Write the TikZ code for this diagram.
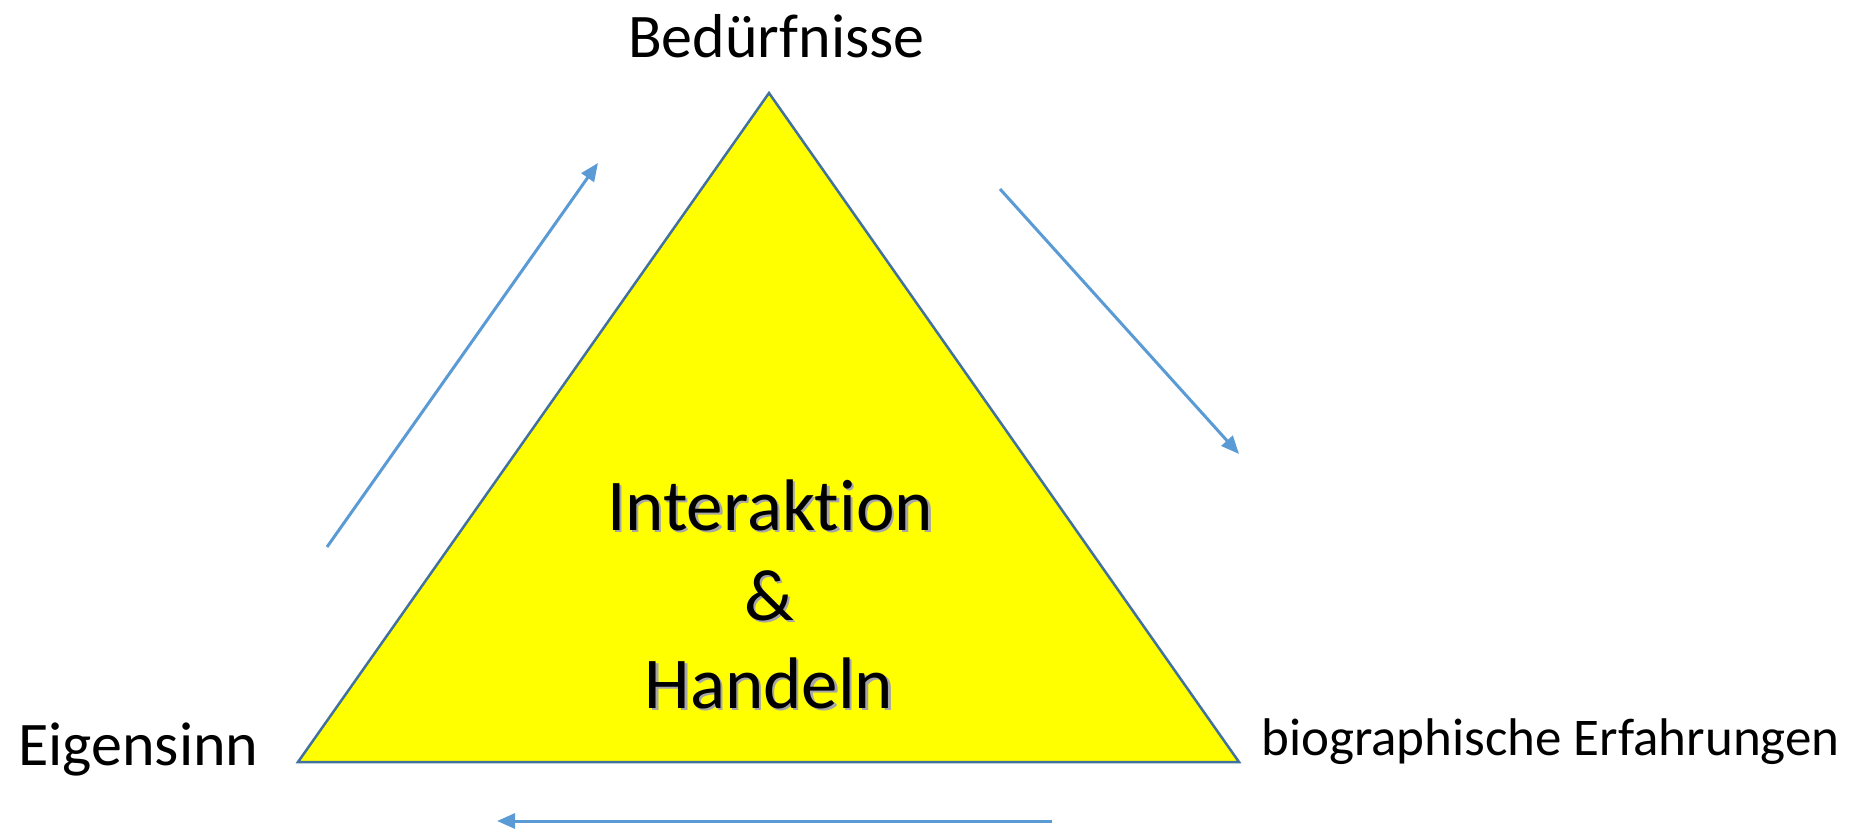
\documentclass[tikz,border=0pt]{standalone}
\usepackage{fontspec}
\setmainfont[Ligatures=NoCommon]{Carlito}
\usetikzlibrary{arrows.meta}
\definecolor{triyellow}{HTML}{FFFF00}
\definecolor{triedge}{HTML}{41719C}
\definecolor{flowblue}{HTML}{5B9BD5}
\tikzset{
  corner/.style={font=\fontsize{62}{74}\selectfont, inner sep=0pt, anchor=base west},
  centertext/.style={font=\fontsize{73}{88}\selectfont, inner sep=0pt, anchor=base},
  flow/.style={draw=flowblue, line width=3pt, -{Triangle[length=18pt,width=15pt]}},
}
\begin{document}
\begin{tikzpicture}[x=1pt,y=-1pt]
  \useasboundingbox (0,0) rectangle (1849,829);

  % triangle corners
  \coordinate (top) at (769,93);
  \coordinate (bl) at (298,762);
  \coordinate (br) at (1239,762);
  \fill[triyellow] (top) -- (bl) -- (br) -- cycle;
  \draw[triedge, line width=2.5pt, line join=miter] (top) -- (bl) -- (br) -- cycle;

  % corner labels
  \node[corner] (need) at (628,58) {Bedürfnisse};
  \node[corner] (self) at (18,765) {Eigensinn};
  \node[corner, font=\fontsize{53}{64}\selectfont] (bio) at (1261,755) {biographische Erfahrungen};

  % centre text with soft drop shadow
  \foreach \txt/\xx/\yy/\nm in {Interaktion/770/530/inter, \&/769/620/amp, Handeln/769/708/hand}{
    \node[centertext, text=black!35] (\nm s) at (\xx+2.5,\yy+2.5) {\txt};
    \node[centertext] (\nm) at (\xx,\yy) {\txt};
  }

  % circulation arrows
  \coordinate (a1s) at (327,547);
  \coordinate (a1e) at (598,163);
  \coordinate (a2s) at (1000,189);
  \coordinate (a2e) at (1239,454);
  \coordinate (a3s) at (1052,821);
  \coordinate (a3e) at (497,821);
  \draw[flow] (a1s) -- (a1e);
  \draw[flow] (a2s) -- (a2e);
  \draw[flow] (a3s) -- (a3e);
\end{tikzpicture}
\end{document}
